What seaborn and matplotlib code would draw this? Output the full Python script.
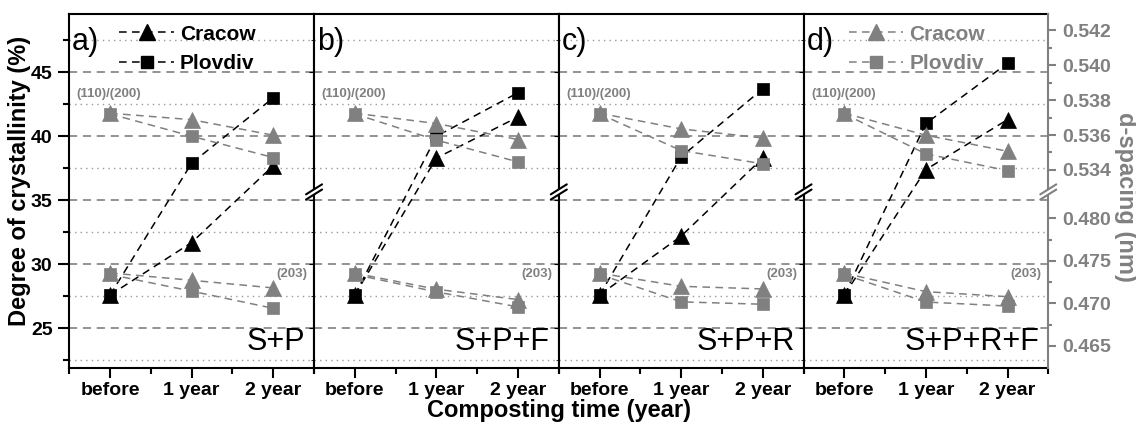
import numpy as np
import matplotlib
matplotlib.use("Agg")
import matplotlib.pyplot as plt
import seaborn as sns
from matplotlib.lines import Line2D
from matplotlib.patches import Polygon
from matplotlib.ticker import FixedLocator, FuncFormatter
from matplotlib.transforms import IdentityTransform

# ---------------- data ----------------
periods = ["before", "1 year", "2 year"]
panel_letters = ["a)", "b)", "c)", "d)"]
treatments = ["S+P", "S+P+F", "S+P+R", "S+P+R+F"]
sites = ["Cracow", "Plovdiv"]

# degree of crystallinity (%), left axis
cryst_cracow = [[27.6, 31.7, 37.7], [27.6, 38.3, 41.5], [27.6, 32.2, 38.3], [27.6, 37.4, 41.3]]
cryst_plovdiv = [[27.6, 37.9, 43.0], [27.6, 40.0, 43.4], [27.6, 38.4, 43.7], [27.6, 41.0, 45.7]]
# d-spacing (nm), right axis, (110)/(200) reflection
d110_cracow = [[0.53725, 0.53688, 0.53599], [0.53725, 0.53666, 0.53574],
               [0.53725, 0.53635, 0.53583], [0.53725, 0.53599, 0.53507]]
d110_plovdiv = [[0.53721, 0.53593, 0.53471], [0.53721, 0.53571, 0.53446],
                [0.53721, 0.53511, 0.53435], [0.53721, 0.53492, 0.53396]]
# d-spacing (nm), (203) reflection
d203_cracow = [[0.47357, 0.47271, 0.47181], [0.47354, 0.47166, 0.47044],
               [0.47354, 0.47200, 0.47169], [0.47354, 0.47137, 0.47078]]
d203_plovdiv = [[0.47339, 0.47143, 0.46941], [0.47339, 0.47134, 0.46958],
                [0.47339, 0.47017, 0.46989], [0.47339, 0.47015, 0.46968]]

left_major = [25, 30, 35, 40, 45]
left_minor = [22.5, 27.5, 32.5, 37.5, 42.5, 47.5]
right_major = [0.465, 0.470, 0.475, 0.480, 0.534, 0.536, 0.538, 0.540, 0.542]
right_minor = [0.4675, 0.4725, 0.4775, 0.535, 0.537, 0.539, 0.541]

# ---------------- broken right scale ----------------
L_BREAK = 35.65
UP_D0, UP_L0, UP_SLOPE = 0.540, 45.547, 1363.0
LO_D0, LO_L0, LO_SLOPE = 0.470, 26.95, 664.0
D_LO = LO_D0 + (L_BREAK - LO_L0) / LO_SLOPE
D_HI = UP_D0 + (L_BREAK - UP_L0) / UP_SLOPE
GAP_SLOPE = 1e-2
L_HI = L_BREAK + (D_HI - D_LO) * GAP_SLOPE


def fwd(d):
    d = np.asarray(d, dtype=float)
    return np.where(d <= D_LO, L_BREAK + (d - D_LO) * LO_SLOPE,
                    np.where(d >= D_HI, L_HI + (d - D_HI) * UP_SLOPE,
                             L_BREAK + (d - D_LO) * GAP_SLOPE))


def inv(L):
    L = np.asarray(L, dtype=float)
    return np.where(L <= L_BREAK, D_LO + (L - L_BREAK) / LO_SLOPE,
                    np.where(L >= L_HI, D_HI + (L - L_HI) / UP_SLOPE,
                             D_LO + (L - L_BREAK) / GAP_SLOPE))


# ---------------- style ----------------
sns.set_style("ticks")
plt.rcParams["font.family"] = ["Liberation Sans", "DejaVu Sans"]
plt.rcParams["axes.linewidth"] = 1.5
for key in ["text.color", "axes.labelcolor", "xtick.color", "ytick.color", "axes.edgecolor"]:
    plt.rcParams[key] = "black"

BLACK = "#000000"
GRAY = "#808080"
GRID_DASH = "#8a8a8a"
GRID_DOT = "#9a9a9a"
YLIM = (21.92, 49.55)
xpos = list(range(len(periods)))

W, H = 1136, 425
fig = plt.figure(figsize=(W / 100, H / 100), dpi=100)
left_px, right_px, top_px, bot_px = 69.3, 1048.3, 14.0, 367.7
pw = (right_px - left_px) / 4

line_kw = dict(linestyle=(0, (5, 3.5)), linewidth=1.1)

axes = []
twins = []
for i in range(4):
    ax = fig.add_axes([(left_px + i * pw) / W, 1 - bot_px / H, pw / W, (bot_px - top_px) / H])
    axes.append(ax)
    ax.set_xlim(-0.5, 2.5)
    ax.set_ylim(*YLIM)
    ax.set_axisbelow(True)
    ax.yaxis.set_major_locator(FixedLocator(left_major))
    ax.yaxis.set_minor_locator(FixedLocator(left_minor))
    ax.xaxis.set_major_locator(FixedLocator(xpos))
    ax.xaxis.set_minor_locator(FixedLocator([-0.5, 0.5, 1.5, 2.5]))
    ax.set_xticklabels(periods, fontsize=14, fontweight="bold", color=BLACK)
    ax.grid(which="major", axis="y", color=GRID_DASH, linestyle=(0, (4.5, 3.2)), linewidth=1.3)
    ax.grid(which="minor", axis="y", color=GRID_DOT, linestyle=(0, (1, 3)), linewidth=1.0)
    ax.grid(which="both", axis="x", visible=False)
    ax.tick_params(axis="x", which="major", direction="out", length=7, width=1.5, pad=3, colors=BLACK)
    ax.tick_params(axis="x", which="minor", direction="out", length=4, width=1.5, colors=BLACK)
    if i == 0:
        ax.tick_params(axis="y", which="major", direction="out", length=8, width=1.5, pad=4,
                       labelsize=14, colors=BLACK)
        ax.tick_params(axis="y", which="minor", direction="out", length=4, width=1.5, colors=BLACK)
        for lab in ax.get_yticklabels():
            lab.set_fontweight("bold")
    else:
        ax.tick_params(axis="y", which="both", left=False, labelleft=False)
    for s in ax.spines.values():
        s.set_color(BLACK)
        s.set_linewidth(1.5)
    if i == 3:
        ax.spines["right"].set_visible(False)

    # crystallinity (black)
    sns.lineplot(x=xpos, y=cryst_cracow[i], ax=ax, color=BLACK, marker="^", markersize=11,
                 markeredgecolor=BLACK, markeredgewidth=0.5, legend=False, **line_kw)
    sns.lineplot(x=xpos, y=cryst_plovdiv[i], ax=ax, color=BLACK, marker="s", markersize=9,
                 markeredgecolor=BLACK, markeredgewidth=0.5, legend=False, **line_kw)
    ax.set_xlabel("")
    ax.set_ylabel("")
    if i == 0:
        ax.set_ylabel("Degree of crystallinity (%)", fontsize=17, fontweight="bold", color=BLACK)
        ax.yaxis.set_label_coords((31.5 - left_px) / pw, 1 - (180.5 - top_px) / (bot_px - top_px))

    # d-spacing (gray) on broken twin scale
    ax2 = ax.twinx()
    twins.append(ax2)
    ax2.set_yscale("function", functions=(fwd, inv))
    ax2.set_ylim(float(inv(YLIM[0])), float(inv(YLIM[1])))
    for series, mk, ms in [(d110_cracow, "^", 11), (d110_plovdiv, "s", 9),
                           (d203_cracow, "^", 11), (d203_plovdiv, "s", 9)]:
        sns.lineplot(x=xpos, y=series[i], ax=ax2, color=GRAY, marker=mk, markersize=ms,
                     markeredgecolor=GRAY, markeredgewidth=0.5, legend=False, **line_kw)
    ax2.set_ylim(float(inv(YLIM[0])), float(inv(YLIM[1])))
    ax2.set_xlim(-0.5, 2.5)
    ax2.set_xlabel("")
    ax2.set_ylabel("")
    for k in ["left", "top", "bottom"]:
        ax2.spines[k].set_visible(False)
    if i < 3:
        ax2.spines["right"].set_visible(False)
        ax2.tick_params(axis="y", which="both", right=False, labelright=False)
    else:
        ax2.spines["right"].set_color(GRAY)
        ax2.spines["right"].set_linewidth(1.5)
        ax2.yaxis.set_major_locator(FixedLocator(right_major))
        ax2.yaxis.set_minor_locator(FixedLocator(right_minor))
        ax2.yaxis.set_major_formatter(FuncFormatter(lambda v, p: f"{v:.3f}"))
        ax2.tick_params(axis="y", which="major", direction="out", length=6, width=1.5, pad=4,
                        colors=GRAY, labelsize=14)
        ax2.tick_params(axis="y", which="minor", direction="out", length=3, width=1.5, colors=GRAY)
        for lab in ax2.get_yticklabels():
            lab.set_fontweight("bold")
        ax2.set_ylabel("d-spacing (nm)", fontsize=17, fontweight="bold", color=GRAY,
                       rotation=270, va="bottom")
        ax2.yaxis.set_label_coords((1114 - (left_px + 3 * pw)) / pw,
                                   1 - (197 - top_px) / (bot_px - top_px))

    # annotations
    ax.text(0.012, 0.963, panel_letters[i], transform=ax.transAxes, fontsize=22,
            ha="left", va="top", color=BLACK)
    ax.text(0.963, 0.05, treatments[i], transform=ax.transAxes, fontsize=22,
            ha="right", va="baseline", color=BLACK)
    ax.text(-0.41, 43.3, "(110)/(200)", fontsize=9.5, fontweight="bold", color=GRAY,
            ha="left", va="center")
    ax.text(2.42, 29.24, "(203)", fontsize=9.5, fontweight="bold", color=GRAY,
            ha="right", va="center")

# legends
def make_handles(col):
    return [Line2D([], [], color=col, marker="^", markersize=11, markeredgecolor=col, **line_kw),
            Line2D([], [], color=col, marker="s", markersize=9, markeredgecolor=col, **line_kw)]

leg_kw = dict(loc="upper left", frameon=False, borderaxespad=0, borderpad=0,
              handlelength=2.6, handletextpad=0.3, labelspacing=0.5,
              prop={"weight": "bold", "size": 15})
axes[0].legend(make_handles(BLACK), sites, bbox_to_anchor=(0.205, 0.97),
               labelcolor=BLACK, **leg_kw)
twins[3].legend(make_handles(GRAY), sites, bbox_to_anchor=(0.185, 0.97),
                labelcolor=GRAY, **leg_kw)

fig.text((left_px + right_px) / 2 / W, 1 - 410 / H, "Composting time (year)", fontsize=17,
         fontweight="bold", ha="center", va="center", color=BLACK)

# axis break marks
def break_mark(ax, col):
    x0, y0 = ax.get_yaxis_transform().transform((1.0, L_BREAK))
    dx, dy, s = 8, 5, 2.6
    poly = Polygon([(x0 - dx, y0 - dy - s), (x0 + dx, y0 + dy - s),
                    (x0 + dx, y0 + dy + s), (x0 - dx, y0 - dy + s)],
                   closed=True, facecolor="white", edgecolor="none",
                   transform=IdentityTransform(), zorder=20, clip_on=False)
    fig.add_artist(poly)
    for sg in (-s, s):
        fig.add_artist(Line2D([x0 - dx, x0 + dx], [y0 - dy + sg, y0 + dy + sg], color=col,
                              linewidth=1.5, transform=IdentityTransform(), zorder=21,
                              clip_on=False))

for i in range(3):
    break_mark(axes[i], BLACK)
break_mark(axes[3], GRAY)

fig.savefig("out.png", dpi=100)
